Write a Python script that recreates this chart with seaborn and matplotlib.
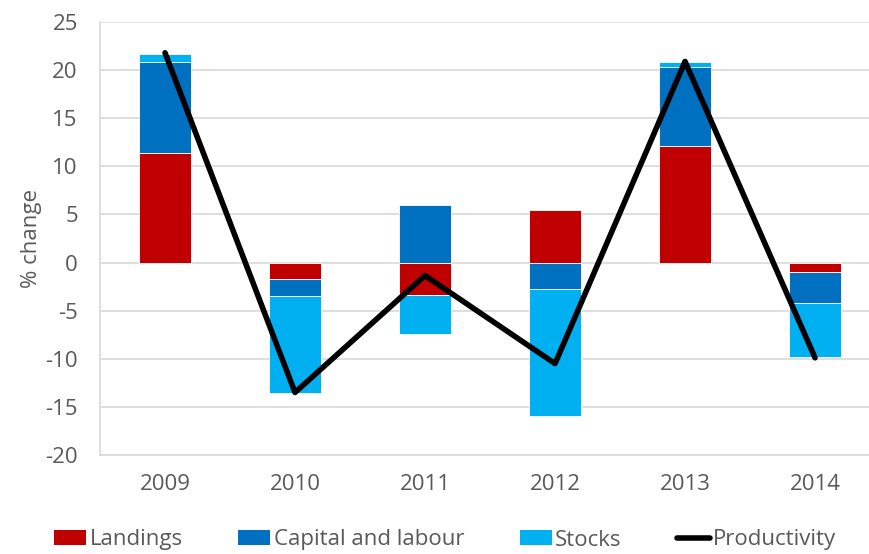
import matplotlib.pyplot as plt
import numpy as np
import seaborn as sns
from matplotlib.lines import Line2D
from matplotlib.patches import Patch

years = ["2009", "2010", "2011", "2012", "2013", "2014"]
landings = [11.4, -1.7, -3.4, 5.5, 12.1, -1.0]
capital_labour = [9.4, -1.8, 6.0, -2.7, 8.2, -3.2]
stocks = [0.9, -10.1, -4.0, -13.2, 0.5, -5.6]
productivity = [21.8, -13.5, -1.35, -10.5, 20.9, -9.9]

series = [
    ("Landings", landings, "#C00000"),
    ("Capital and labour", capital_labour, "#0070C0"),
    ("Stocks", stocks, "#00B0F0"),
]

sns.set_theme(style="white")
plt.rcParams["font.family"] = ["Open Sans", "DejaVu Sans"]
plt.rcParams["axes.unicode_minus"] = False

fig = plt.figure(figsize=(8.69, 5.54), dpi=100)
ax = fig.add_axes([100 / 869, 1 - 455 / 554, 769 / 869, 433 / 554])

# stack positives upward and negatives downward
pos_base = np.zeros(len(years))
neg_base = np.zeros(len(years))
for name, vals, color in series:
    vals = np.asarray(vals, dtype=float)
    bottom = np.where(vals >= 0, pos_base, neg_base)
    sns.barplot(x=years, y=vals, bottom=bottom, color=color, width=0.4,
                edgecolor="white", linewidth=0.6, saturation=1, ax=ax, zorder=2)
    pos_base += np.clip(vals, 0, None)
    neg_base += np.clip(vals, None, 0)

sns.pointplot(x=years, y=productivity, color="black", marker="", linewidth=4,
              errorbar=None, ax=ax, zorder=3)

ax.set_xlim(-0.5, 5.415)
ax.set_ylim(-20, 25)
ax.set_yticks(range(-20, 26, 5))
ax.yaxis.grid(True, color="#d9d9d9", linewidth=1.2, zorder=0)
ax.set_axisbelow(True)
for side in ["top", "right"]:
    ax.spines[side].set_visible(False)
ax.spines["left"].set_color("#d9d9d9")
ax.spines["bottom"].set_color("#d9d9d9")
ax.spines["left"].set_linewidth(1.2)
ax.spines["bottom"].set_linewidth(1.2)
ax.tick_params(axis="both", length=0, labelsize=16, labelcolor="#595959")
ax.tick_params(axis="y", pad=16)
ax.tick_params(axis="x", pad=14)
ax.set_xlabel("")
ax.set_ylabel("% change", fontsize=16, color="#595959", labelpad=2)

handles = [Patch(facecolor=c, edgecolor="none", label=n) for n, _, c in series]
handles.append(Line2D([0], [0], color="black", linewidth=4, label="Productivity"))
fig.legend(handles=handles, loc="center", bbox_to_anchor=(0.512, 1 - 540 / 554), ncol=4,
           frameon=False, fontsize=16, labelcolor="#595959", handlelength=1.45,
           handleheight=0.65, handletextpad=0.15, columnspacing=2.5)

fig.savefig("out.png", dpi=100)
